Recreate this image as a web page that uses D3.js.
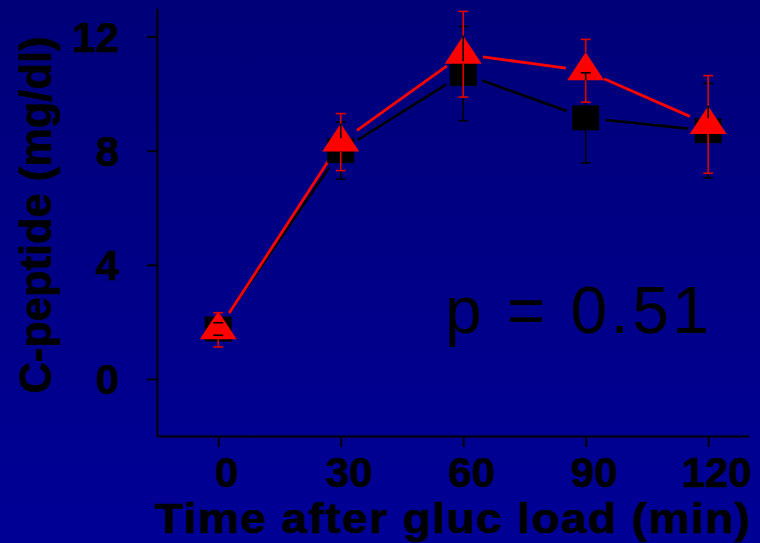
<!DOCTYPE html>
<html>
<head>
<meta charset="utf-8">
<script src="https://cdn.jsdelivr.net/npm/d3@7"></script>
<style>
  body { margin: 0; background: #000080; }
  svg { display: block; }
  text { font-family: "Liberation Sans", Arial, sans-serif; fill: #000; }
  .heavy { font-weight: bold; stroke: #000; stroke-width: 0.7px; }
</style>
</head>
<body>
<svg id="svg" width="760" height="543"></svg>
<script>
// data
const times = [0, 30, 60, 90, 120];
const squareMean = [1.75, 8.0, 10.7, 9.15, 8.7];
const squareSE = [0.22, 1.0, 1.65, 1.58, 1.66];
const triMean = [1.72, 8.3, 11.38, 10.8, 8.92];
const triSE = [0.6, 1.0, 1.5, 1.1, 1.71];
const yTicks = [0, 4, 8, 12];
const xTicks = [0, 30, 60, 90, 120];

let svg = d3.select("#svg");
let width = 760, height = 543;

// background, slightly lighter toward the bottom
let defs = svg.append("defs");
let grad = defs.append("linearGradient")
    .attr("id", "bg").attr("x1", 0).attr("y1", 0).attr("x2", 0).attr("y2", 1);
grad.append("stop").attr("offset", "0%").attr("stop-color", "#000078");
grad.append("stop").attr("offset", "100%").attr("stop-color", "#000096");
svg.append("rect").attr("width", width).attr("height", height).attr("fill", "url(#bg)");

let xScale = d3.scaleLinear().domain([-15, 130]).range([157, 749]);
let yScale = d3.scaleLinear().domain([-2, 13]).range([436, 8]);

// axes
let xAxis = d3.axisBottom(xScale).tickValues(xTicks).tickSize(11).tickSizeOuter(0).tickPadding(0);
let yAxis = d3.axisLeft(yScale).tickValues(yTicks).tickSize(10).tickSizeOuter(0).tickPadding(0);

let gx = svg.append("g").attr("transform", `translate(0,${yScale(-2)})`).call(xAxis);
let gy = svg.append("g").attr("transform", `translate(${xScale(-15)},0)`).call(yAxis);

[gx, gy].forEach(g => {
    g.select(".domain").attr("stroke", "#000").attr("stroke-width", 2);
    g.selectAll(".tick line").attr("stroke", "#000").attr("stroke-width", 2);
    g.selectAll(".tick text")
        .attr("class", "heavy")
        .attr("fill", "#000")
        .style("font-size", "42px")
        .style("font-family", "'Liberation Sans', Arial, sans-serif");
});
gx.selectAll(".tick text").attr("dy", null).attr("y", 51).attr("x", 8);
gy.selectAll(".tick text").attr("x", -38).attr("dy", "0.35em");

// axis titles (the x title is stretched a little sideways in the original)
svg.append("text")
    .attr("class", "heavy")
    .attr("transform", "translate(155,533) scale(1.1,1)")
    .attr("textLength", 541).attr("lengthAdjust", "spacing")
    .style("font-size", "42px")
    .text("Time after gluc load (min)");

svg.append("text")
    .attr("class", "heavy")
    .attr("transform", "translate(51,215) rotate(-90)")
    .attr("text-anchor", "middle")
    .attr("textLength", 357).attr("lengthAdjust", "spacingAndGlyphs")
    .style("font-size", "45px")
    .text("C-peptide (mg/dl)");

// p value
svg.append("text")
    .attr("x", 445).attr("y", 333)
    .attr("textLength", 264).attr("lengthAdjust", "spacing")
    .style("font-size", "66px")
    .text("p = 0.51");

// connecting lines with a gap around each symbol
const gap = 20;
let drawGappedLine = (means, color, w) => {
    let pts = times.map((t, i) => [xScale(t), yScale(means[i])]);
    for (let i = 0; i < pts.length - 1; i++) {
        let [x1, y1] = pts[i], [x2, y2] = pts[i + 1];
        let len = Math.hypot(x2 - x1, y2 - y1);
        let ux = (x2 - x1) / len, uy = (y2 - y1) / len;
        svg.append("line")
            .attr("x1", x1 + ux * gap).attr("y1", y1 + uy * gap)
            .attr("x2", x2 - ux * gap).attr("y2", y2 - uy * gap)
            .attr("stroke", color).attr("stroke-width", w);
    }
};
drawGappedLine(squareMean, "#000", 2.6);
drawGappedLine(triMean, "#ff0000", 2.8);

// symbols
const sqW = 27, sqH = 25;
svg.append("g").selectAll("rect")
    .data(times)
    .join("rect")
    .attr("x", (d, i) => xScale(d) - sqW / 2)
    .attr("y", (d, i) => yScale(squareMean[i]) - sqH / 2)
    .attr("width", sqW).attr("height", sqH)
    .attr("fill", "#000");

const triTop = 18.5, triBottom = 9.5, triHalf = 18.5;
svg.append("g").selectAll("path")
    .data(times)
    .join("path")
    .attr("d", (d, i) => {
        let cx = xScale(d), cy = yScale(triMean[i]);
        return `M${cx},${cy - triTop}L${cx + triHalf},${cy + triBottom}L${cx - triHalf},${cy + triBottom}Z`;
    })
    .attr("fill", "#ff0000");

// error bars, drawn outward from the symbol edge
const capW = 10;
let drawErrorBars = (means, ses, color, up, down) => {
    let g = svg.append("g").attr("stroke", color).attr("stroke-width", 1.6);
    times.forEach((t, i) => {
        let cx = xScale(t), cy = yScale(means[i]);
        let yHi = yScale(means[i] + ses[i]), yLo = yScale(means[i] - ses[i]);
        if (cy - up > yHi) g.append("line").attr("x1", cx).attr("x2", cx).attr("y1", cy - up).attr("y2", yHi);
        if (cy + down < yLo) g.append("line").attr("x1", cx).attr("x2", cx).attr("y1", cy + down).attr("y2", yLo);
        g.append("line").attr("x1", cx - capW / 2).attr("x2", cx + capW / 2).attr("y1", yHi).attr("y2", yHi);
        g.append("line").attr("x1", cx - capW / 2).attr("x2", cx + capW / 2).attr("y1", yLo).attr("y2", yLo);
    });
};
drawErrorBars(squareMean, squareSE, "#000", sqH / 2, sqH / 2);
drawErrorBars(triMean, triSE, "#e00000", triTop, triBottom);
</script>
</body>
</html>
